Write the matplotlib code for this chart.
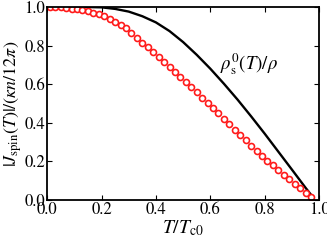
import matplotlib
matplotlib.use("Agg")
import matplotlib.pyplot as plt

# black curve: rho_s^0(T)/rho
t_rho = [0.0, 0.1, 0.15, 0.2, 0.25, 0.3, 0.35, 0.4, 0.45, 0.5, 0.55, 0.6,
         0.65, 0.7, 0.75, 0.8, 0.85, 0.9, 0.95, 0.975]
rho = [1.0, 1.0, 0.9995, 0.998, 0.99, 0.976, 0.952, 0.92, 0.875, 0.818,
       0.752, 0.68, 0.602, 0.52, 0.433, 0.343, 0.25, 0.157, 0.063, 0.018]

# red circles: |J_spin(T)|
t_spin = [0.01, 0.03, 0.05, 0.07, 0.09, 0.11, 0.13, 0.15, 0.17, 0.19, 0.21,
          0.23, 0.25, 0.27, 0.29, 0.31, 0.33, 0.35, 0.37, 0.39, 0.41, 0.43,
          0.45, 0.47, 0.49, 0.51, 0.53, 0.55, 0.57, 0.59, 0.61, 0.63, 0.65,
          0.67, 0.69, 0.71, 0.73, 0.75, 0.77, 0.79, 0.81, 0.83, 0.85, 0.87,
          0.89, 0.91, 0.93, 0.95, 0.97]
j_spin = [1.0, 0.999, 0.998, 0.996, 0.992, 0.988, 0.983, 0.977, 0.97, 0.961,
          0.951, 0.939, 0.924, 0.908, 0.891, 0.863, 0.839, 0.815, 0.791, 0.767,
          0.742, 0.716, 0.69, 0.664, 0.638, 0.611, 0.584, 0.557, 0.53, 0.503,
          0.476, 0.448, 0.42, 0.392, 0.364, 0.336, 0.309, 0.282, 0.255, 0.228,
          0.203, 0.179, 0.155, 0.131, 0.107, 0.084, 0.061, 0.038, 0.015]

ticks = [0, 0.2, 0.4, 0.6, 0.8, 1.0]
tick_labels = ['0.0', '0.2', '0.4', '0.6', '0.8', '1.0']

plt.rcParams['font.family'] = 'STIXGeneral'
plt.rcParams['mathtext.fontset'] = 'stix'

fig = plt.figure(figsize=(3.27, 2.40), dpi=100)
ax = fig.add_axes([0.144, 0.167, 0.832, 0.804])

ax.plot(t_rho, rho, color='black', lw=1.7)
ax.plot(t_spin, j_spin, 'o', mfc='white', mec='#ff1a1a', mew=1.2, ms=4.3)

ax.text(0.635, 0.675, r'$\rho_{\rm s}^{0}(T)/\rho$', fontsize=13.5)

ax.set_xlim(0, 1)
ax.set_ylim(0, 1)
ax.set_xticks(ticks)
ax.set_yticks(ticks)
ax.set_xticklabels(tick_labels)
ax.set_yticklabels(tick_labels)
ax.tick_params(direction='in', top=True, right=True, length=3.5, width=0.8,
               labelsize=12, pad=1.5)
for s in ax.spines.values():
    s.set_linewidth(1.3)

ax.set_xlabel(r'$T/T_{\rm c0}$', fontsize=14, labelpad=0)
ax.set_ylabel(r'$|J_{\rm spin}(T)|/(\kappa n/12\pi)$', fontsize=13, labelpad=0)

fig.savefig('out.png', dpi=100)
